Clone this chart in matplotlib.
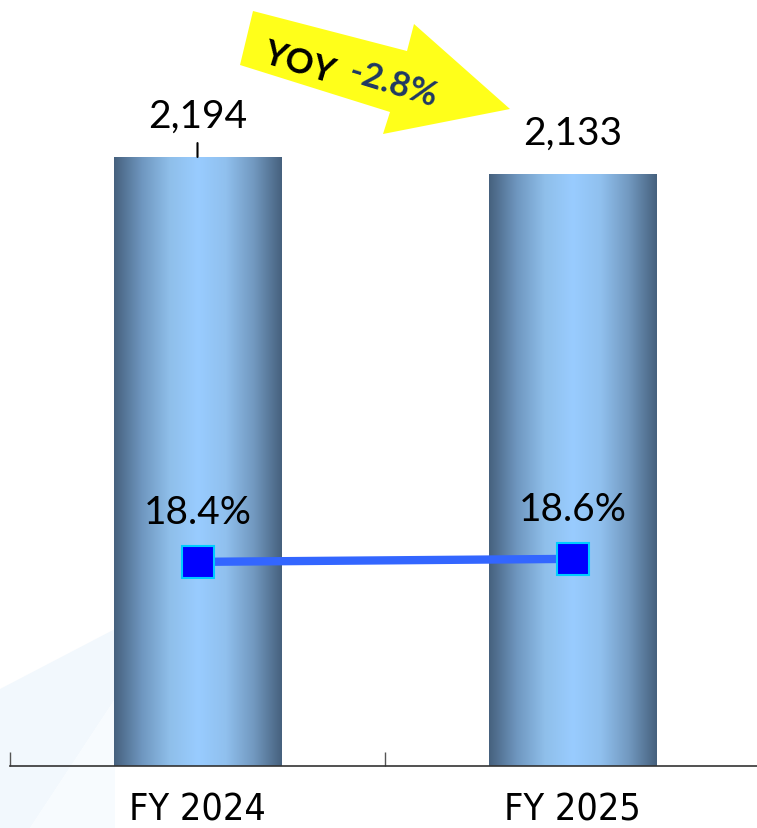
import numpy as np
import matplotlib
matplotlib.use("Agg")
import matplotlib.pyplot as plt
from matplotlib import font_manager
from matplotlib.patches import Polygon
from matplotlib.colors import LinearSegmentedColormap

categories = ["FY 2024", "FY 2025"]
values = [2194, 2133]
value_labels = ["2,194", "2,133"]
margins = [18.4, 18.6]
margin_labels = ["18.4%", "18.6%"]
yoy_label = ("YOY", "-2.8%")

W, H = 757, 829
fig = plt.figure(figsize=(W / 100, H / 100), dpi=100)

names = {f.name for f in font_manager.fontManager.ttflist}
if "Liberation Sans Narrow" in names:
    cat_font = dict(family="Liberation Sans Narrow", fontsize=29)
else:
    cat_font = dict(family="DejaVu Sans", fontstretch="condensed", fontsize=27)

# faint background shapes
bg = fig.add_axes([0, 0, 1, 1], zorder=-5)
bg.set_xlim(0, W); bg.set_ylim(H, 0); bg.axis("off")
bg.add_patch(Polygon([(0, 690), (115, 630), (115, 700), (30, 829), (0, 829)],
                     closed=True, facecolor="#f2f8fd", edgecolor="none"))
bg.add_patch(Polygon([(30, 829), (115, 700), (115, 829)],
                     closed=True, facecolor="#f7fbfe", edgecolor="none"))

ax = fig.add_axes([10 / W, 1 - 767 / H, 750 / W, 767 / H])
ax.patch.set_alpha(0)
x = np.arange(len(categories))
bars = ax.bar(x, values, width=168 / 375, color="none", edgecolor="none", zorder=2)
ax.set_xlim(-0.5, 1.5)
ax.set_ylim(0, 2763)

cmap = LinearSegmentedColormap.from_list(
    "cyl", ["#46617e", "#6f97c0", "#8fbfea", "#99ccff", "#90c0ee", "#7299c0", "#46617e"])
grad = np.linspace(0, 1, 256).reshape(1, -1)
for b in bars:
    bx, by, bw, bh = b.get_x(), b.get_y(), b.get_width(), b.get_height()
    im = ax.imshow(grad, cmap=cmap, aspect="auto", extent=[bx, bx + bw, by, by + bh],
                   zorder=2, interpolation="bicubic")
    im.set_clip_path(b)
ax.set_xlim(-0.5, 1.5)
ax.set_ylim(0, 2763)

# small tick on first bar top
ax.annotate("", xy=(x[0], values[0]), xytext=(0, 10), textcoords="offset points",
            arrowprops=dict(arrowstyle="-", color="black", lw=1.5, shrinkA=0, shrinkB=0))

for xi, v, lab in zip(x, values, value_labels):
    ax.annotate(lab, xy=(xi, v), xytext=(0, 17), textcoords="offset points",
                ha="center", va="bottom", fontsize=28, family="Lato", color="black")

for sp in ["top", "right", "left"]:
    ax.spines[sp].set_visible(False)
ax.spines["bottom"].set_color("#333333")
ax.spines["bottom"].set_linewidth(1.2)
ax.set_yticks([])
ax.set_xticks([-0.5, 0.5], minor=False)
ax.set_xticklabels([])
ax.tick_params(axis="x", direction="in", length=10, color="#555555", width=1)
for xi, c in zip(x, categories):
    ax.text(xi, -0.033, c, transform=ax.get_xaxis_transform(), ha="center", va="top",
            color="black", **cat_font)

ax2 = ax.twinx()
ax2.set_ylim(4.8, 55.9)
ax2.axis("off")
ax2.plot(x, margins, color="#3366ff", lw=6, zorder=3, solid_capstyle="butt")
ax2.plot(x, margins, ls="none", marker="s", ms=23, mfc="#0000ff", mec="#00ccff", mew=1.5, zorder=4)
for xi, m, lab in zip(x, margins, margin_labels):
    ax2.annotate(lab, xy=(xi, m), xytext=(0, 23), textcoords="offset points",
                 ha="center", va="bottom", fontsize=28, family="Lato", color="black")

# yellow arrow
arr = fig.add_axes([0, 0, 1, 1], zorder=10)
arr.set_xlim(0, W); arr.set_ylim(H, 0); arr.axis("off")
pts = [(253, 12), (407, 52), (414, 25), (510, 110), (383, 135), (390, 113), (240, 66)]
arr.add_patch(Polygon(pts, closed=True, facecolor="#ffff1a", edgecolor="none"))
rot = -17
t1 = arr.text(264, 52, yoy_label[0], rotation=rot, rotation_mode="anchor", ha="left",
              va="center", fontsize=25, fontweight="bold", family="Lato", color="black")
arr.annotate(yoy_label[1], xy=(1, 0), xycoords=t1, xytext=(5, 1), textcoords="offset points",
             rotation=rot, rotation_mode="anchor", ha="left", va="bottom",
             fontsize=25, fontweight="bold", family="Lato", color="#1f3864")

fig.savefig("out.png", dpi=100)
